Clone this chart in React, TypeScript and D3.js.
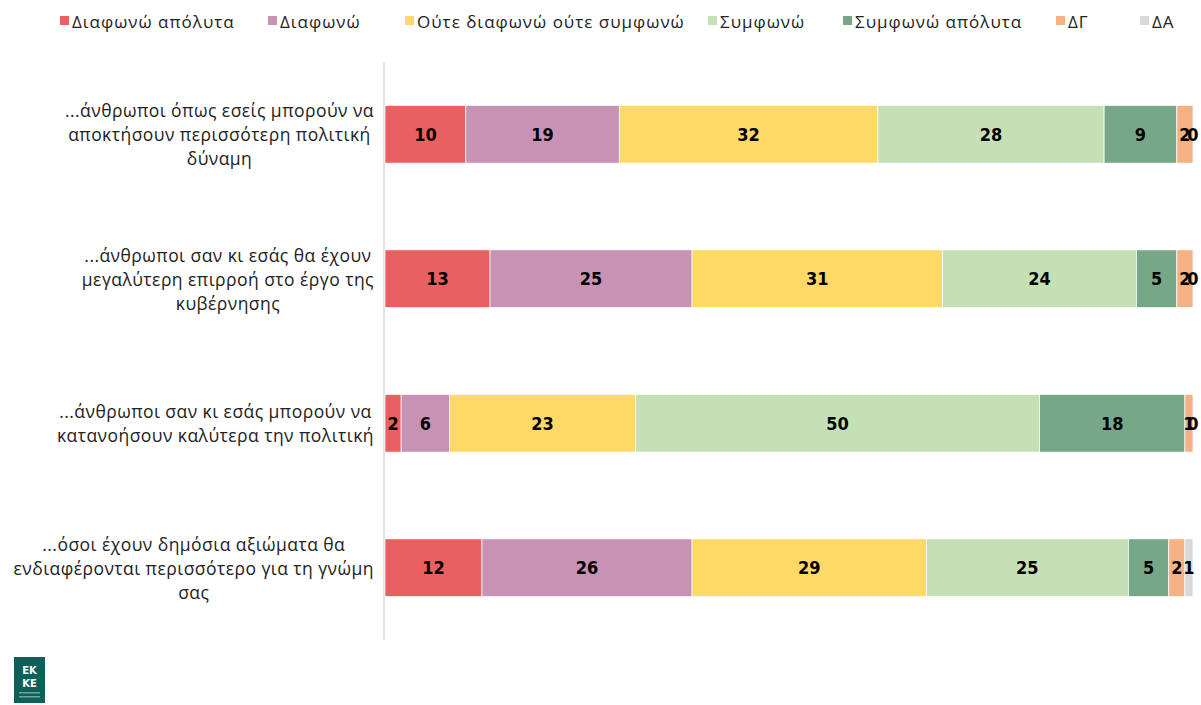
import React from "react";
import * as d3 from "d3";

const categories = ["q1", "q2", "q3", "q4"];
const categoryLines = [
  ["...άνθρωποι όπως εσείς μπορούν να", "αποκτήσουν περισσότερη πολιτική", "δύναμη"],
  ["...άνθρωποι σαν κι εσάς θα έχουν", "μεγαλύτερη επιρροή στο έργο της", "κυβέρνησης"],
  ["...άνθρωποι σαν κι εσάς μπορούν να", "κατανοήσουν καλύτερα την πολιτική"],
  ["...όσοι έχουν δημόσια αξιώματα θα", "ενδιαφέρονται περισσότερο για τη γνώμη", "σας"],
];
const seriesNames = ["Διαφωνώ απόλυτα", "Διαφωνώ", "Ούτε διαφωνώ ούτε συμφωνώ", "Συμφωνώ", "Συμφωνώ απόλυτα", "ΔΓ", "ΔΑ"];
const seriesColors = ["#E8605F", "#C892B5", "#FFD966", "#C6E0B5", "#76A888", "#F4B183", "#D9D9D9"];
const values = [
  [10, 19, 32, 28, 9, 2, 0],
  [13, 25, 31, 24, 5, 2, 0],
  [2, 6, 23, 50, 18, 1, 0],
  [12, 26, 29, 25, 5, 2, 1],
];
const legendX = [60, 268, 405, 708, 843, 1056, 1140];

const LABEL_SIZE = 17.5;
const LABEL_SPACING = 0.45;
const LABEL_FONT = `${LABEL_SIZE}px 'Open Sans', 'Noto Sans', sans-serif`;

function measure(text: string): number {
  if (typeof document === "undefined") return text.length * 9;
  const c = document.createElement("canvas");
  const ctx = c.getContext("2d")!;
  ctx.font = LABEL_FONT;
  return ctx.measureText(text).width + LABEL_SPACING * text.length;
}

export default function App() {
  const W = 1201, H = 705;
  const x = d3.scaleLinear().domain([0, 100]).range([385, 1193]);
  const y = d3.scaleBand<string>().domain(categories).range([62, 640]).paddingInner(0.6).paddingOuter(0.3);
  const lineH = 24;

  return (
    <svg width={W} height={H} style={{ position: "absolute", left: 0, top: 0, background: "#fff" }}>
      {/* legend */}
      {seriesNames.map((n, i) => (
        <g key={n} transform={`translate(${legendX[i]},0)`}>
          <rect x={0} y={16} width={9} height={9} fill={seriesColors[i]} />
          <text x={12} y={21} dominantBaseline="central" fontFamily="'Open Sans','Noto Sans',sans-serif" fontSize={17} letterSpacing={1} fill="#222">{n}</text>
        </g>
      ))}
      {/* axis line */}
      <line x1={384} x2={384} y1={62} y2={640} stroke="#D9D9D9" strokeWidth={1.5} />
      {/* category labels */}
      {categories.map((c, ci) => {
        const lines = categoryLines[ci];
        const maxW = Math.max(...lines.map(measure));
        const cx = 374 - maxW / 2;
        const cy = (y(c) as number) + y.bandwidth() / 2;
        const y0 = cy - ((lines.length - 1) * lineH) / 2;
        return (
          <text key={c} textAnchor="middle" fontFamily="'Open Sans','Noto Sans',sans-serif" fontSize={LABEL_SIZE} letterSpacing={LABEL_SPACING} fill="#222">
            {lines.map((l, li) => (
              <tspan key={li} x={cx} y={y0 + li * lineH} dominantBaseline="central">{l}</tspan>
            ))}
          </text>
        );
      })}
      {/* bars */}
      {categories.map((c, ci) => {
        let acc = 0;
        const by = y(c) as number;
        return (
          <g key={c}>
            {values[ci].map((v, si) => {
              const x0 = x(acc);
              acc += v;
              const x1 = x(acc);
              return (
                <rect key={si} x={x0} y={by} width={Math.max(0, x1 - x0)} height={y.bandwidth()} fill={seriesColors[si]} stroke="#fff" strokeWidth={0.75} />
              );
            })}
          </g>
        );
      })}
      {categories.map((c, ci) => {
        let acc = 0;
        const cy = (y(c) as number) + y.bandwidth() / 2;
        return (
          <g key={c}>
            {values[ci].map((v, si) => {
              const xm = x(acc + v / 2);
              acc += v;
              return (
                <text key={si} x={xm} y={cy} textAnchor="middle" dominantBaseline="central"
                  fontFamily="'Liberation Sans Narrow','DejaVu Sans Condensed',sans-serif" fontWeight="bold" fontSize={18} fill="#000">{v}</text>
              );
            })}
          </g>
        );
      })}
      {/* logo */}
      <rect x={14} y={657} width={31} height={46} fill="#0E5F57" />
      <text x={29.5} y={670} textAnchor="middle" dominantBaseline="central" fontFamily="'DejaVu Sans',sans-serif" fontWeight="bold" fontSize={10} fill="#fff">EK</text>
      <text x={29.5} y={683} textAnchor="middle" dominantBaseline="central" fontFamily="'DejaVu Sans',sans-serif" fontWeight="bold" fontSize={10} fill="#fff">KE</text>
      <rect x={19} y={692} width={21} height={1.5} fill="#6FA79F" />
      <rect x={19} y={696} width={21} height={1.5} fill="#6FA79F" />
    </svg>
  );
}
